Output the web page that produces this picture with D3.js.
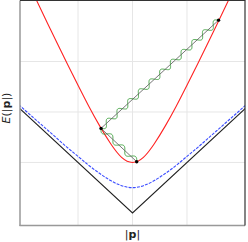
<!DOCTYPE html>
<html>
<head>
<meta charset="utf-8">
<script src="https://cdn.jsdelivr.net/npm/d3@7"></script>
<style>
  html, body { margin: 0; padding: 0; background: #fff; }
  svg { display: block; font-family: "DejaVu Sans", sans-serif; }
</style>
</head>
<body>
<div id="chart"></div>
<script>
'use strict';

// momentum samples and energies
const redP = [-1.8, -1.6, -1.4, -1.2, -1.0, -0.8, -0.6, -0.4, -0.2, 0, 0.2, 0.4, 0.6, 0.8, 1.0, 1.2, 1.4, 1.6, 1.8];
const redE = [4.30, 3.85, 3.40, 2.96, 2.53, 2.11, 1.72, 1.37, 1.10, 1.00, 1.10, 1.37, 1.72, 2.11, 2.53, 2.96, 3.40, 3.85, 4.30];

const blueP = [-2.2, -2.0, -1.8, -1.6, -1.4, -1.2, -1.0, -0.8, -0.6, -0.4, -0.2, 0, 0.2, 0.4, 0.6, 0.8, 1.0, 1.2, 1.4, 1.6, 1.8, 2.0, 2.2];
const blueE = [2.26, 2.06, 1.87, 1.68, 1.49, 1.30, 1.12, 0.94, 0.78, 0.64, 0.54, 0.50, 0.54, 0.64, 0.78, 0.94, 1.12, 1.30, 1.49, 1.68, 1.87, 2.06, 2.26];

const coneP = [-2.2, 0, 2.2];
const coneE = [2.2, 0, 2.2];

// photon vertices: B -> A -> C
const vertexP = [1.58, -0.578, 0.077];
const vertexE = [3.82, 1.675, 1.015];

const xGrid = [-1, 0, 1];
const yGrid = [1, 2, 3];

const width = 248, height = 242;
const margin = {top: 0.5, right: 3, bottom: 16.5, left: 20};

const x = d3.scaleLinear().domain([-2.065, 2.065]).range([margin.left, width - margin.right]);
const y = d3.scaleLinear().domain([-0.25, 4.21]).range([height - margin.bottom, margin.top]);

const svg = d3.select('#chart').append('svg')
    .attr('width', width)
    .attr('height', height);

svg.append('clipPath').attr('id', 'plot-clip')
    .append('rect')
    .attr('x', x.range()[0]).attr('y', y.range()[1])
    .attr('width', x.range()[1] - x.range()[0])
    .attr('height', y.range()[0] - y.range()[1]);

// grid
svg.append('g').selectAll('line').data(xGrid).enter().append('line')
    .attr('x1', d => x(d)).attr('x2', d => x(d))
    .attr('y1', y.range()[1]).attr('y2', y.range()[0])
    .attr('stroke', '#e6e6e6').attr('stroke-width', 1);
svg.append('g').selectAll('line').data(yGrid).enter().append('line')
    .attr('y1', d => y(d)).attr('y2', d => y(d))
    .attr('x1', x.range()[0]).attr('x2', x.range()[1])
    .attr('stroke', '#e6e6e6').attr('stroke-width', 1);

const plot = svg.append('g').attr('clip-path', 'url(#plot-clip)');

const line = d3.line().x(d => x(d[0])).y(d => y(d[1])).curve(d3.curveNatural);

plot.append('path')
    .datum(d3.zip(coneP, coneE))
    .attr('d', d3.line().x(d => x(d[0])).y(d => y(d[1])))
    .attr('fill', 'none').attr('stroke', '#222').attr('stroke-width', 1.1);

plot.append('path')
    .datum(d3.zip(blueP, blueE))
    .attr('d', line)
    .attr('fill', 'none').attr('stroke', '#3a4cff').attr('stroke-width', 1.1)
    .attr('stroke-dasharray', '3,1.2');

plot.append('path')
    .datum(d3.zip(redP, redE))
    .attr('d', line)
    .attr('fill', 'none').attr('stroke', '#ff2222').attr('stroke-width', 1.1);

// photon lines: straight core with a green wiggle around it
const verts = d3.zip(vertexP, vertexE).map(d => [x(d[0]), y(d[1])]);
const segs = d3.pairs(verts);
const period = 14.5, amp = 3;

segs.forEach(([a, b]) => {
    const dx = b[0] - a[0], dy = b[1] - a[1];
    const len = Math.hypot(dx, dy);
    const nx = -dy / len, ny = dx / len;
    const n = Math.max(1, Math.round(len / period));
    const pts = d3.range(0, 1.0001, 1 / (n * 20)).map(t => {
        const off = amp * Math.sin(2 * Math.PI * n * t);
        return [a[0] + dx * t + nx * off, a[1] + dy * t + ny * off];
    });
    plot.append('path')
        .attr('d', d3.line()(pts))
        .attr('fill', 'none').attr('stroke', '#2f9a2f')
        .attr('stroke-opacity', 0.8).attr('stroke-width', 1);
    plot.append('line')
        .attr('x1', a[0]).attr('y1', a[1]).attr('x2', b[0]).attr('y2', b[1])
        .attr('stroke', '#555').attr('stroke-width', 0.8);
});

plot.selectAll('.vertex').data(verts).enter().append('circle')
    .attr('class', 'vertex')
    .attr('cx', d => d[0]).attr('cy', d => d[1]).attr('r', 1.7)
    .attr('fill', '#000');

// frame
const [x0, x1] = x.range(), [y0, y1] = y.range();
svg.append('line').attr('x1', x0).attr('x2', x0).attr('y1', y1).attr('y2', y0 + 0.5)
    .attr('stroke', '#999').attr('stroke-width', 1.5);
svg.append('line').attr('x1', x0 - 0.5).attr('x2', x1).attr('y1', y0).attr('y2', y0)
    .attr('stroke', '#999').attr('stroke-width', 1.5);
svg.append('line').attr('x1', x0).attr('x2', x1 + 0.5).attr('y1', y1).attr('y2', y1)
    .attr('stroke', '#333').attr('stroke-width', 1.2);
svg.append('line').attr('x1', x1).attr('x2', x1).attr('y1', y1).attr('y2', y0)
    .attr('stroke', '#333').attr('stroke-width', 1.2);

// axis labels
const yl = svg.append('text')
    .attr('transform', `translate(9.5,${(y0 + y1) / 2 - 5}) rotate(-90)`)
    .attr('text-anchor', 'middle').attr('font-size', 11).attr('fill', '#222');
yl.append('tspan').attr('font-style', 'italic').text('E');
yl.append('tspan').text('(|');
yl.append('tspan').attr('font-weight', 'bold').text('p');
yl.append('tspan').text('|)');

const xl = svg.append('text')
    .attr('x', (x0 + x1) / 2).attr('y', 237.5)
    .attr('text-anchor', 'middle').attr('font-size', 11).attr('fill', '#222');
xl.append('tspan').text('|');
xl.append('tspan').attr('font-weight', 'bold').text('p');
xl.append('tspan').text('|');
</script>
</body>
</html>
